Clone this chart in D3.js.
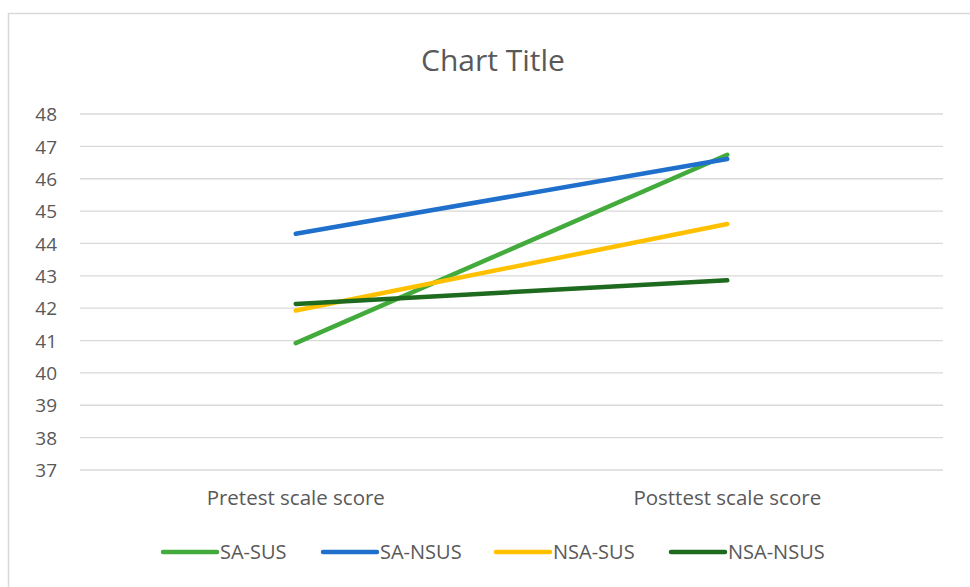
<!DOCTYPE html>
<html lang="en">
<head>
<script src="https://d3js.org/d3.v7.min.js"></script>
<style>
  body { margin: 0; background: #fff; }
  text { font-family: "Open Sans", sans-serif; fill: #595959; }
</style>
</head>
<body>
<div id="chart"></div>
<script>
// data
var categories = ["Pretest scale score", "Posttest scale score"];
var seriesNames = ["SA-SUS", "SA-NSUS", "NSA-SUS", "NSA-NSUS"];
var seriesColors = ["#42ab3c", "#1f6fcd", "#ffc000", "#1e6a1e"];
var saSus = [40.92, 46.74];
var saNsus = [44.30, 46.61];
var nsaSus = [41.93, 44.60];
var nsaNsus = [42.13, 42.86];
var yTicks = [37, 38, 39, 40, 41, 42, 43, 44, 45, 46, 47, 48];

var allSeries = [saSus, saNsus, nsaSus, nsaNsus];

var W = 970, H = 587;
var margin = {top: 114, right: 27, bottom: 117, left: 80};
var width = W - margin.left - margin.right,
    height = H - margin.top - margin.bottom;

var svg = d3.select("#chart").append("svg")
  .attr("width", W)
  .attr("height", H);

// chart area border
svg.append("rect")
  .attr("x", 8.5).attr("y", 13.5)
  .attr("width", W).attr("height", H)
  .attr("fill", "#fff")
  .attr("stroke", "#d9d9d9")
  .attr("stroke-width", 1.5);

svg.append("text")
  .attr("x", 493).attr("y", 71)
  .attr("text-anchor", "middle")
  .style("font-size", "30px")
  .text("Chart Title");

var g = svg.append("g")
  .attr("transform", "translate(" + margin.left + "," + margin.top + ")");

var x = d3.scaleBand().domain(categories).range([0, width]);
var y = d3.scaleLinear().domain([37, 48]).range([height, 0]);

// gridlines
g.append("g")
  .selectAll("line")
  .data(yTicks)
  .enter().append("line")
  .attr("x1", 0).attr("x2", width)
  .attr("y1", function(d) { return y(d); })
  .attr("y2", function(d) { return y(d); })
  .attr("stroke", "#d9d9d9")
  .attr("stroke-width", 1.3);

// y axis
var yAxis = g.append("g")
  .call(d3.axisLeft(y).tickValues(yTicks).tickSize(0).tickPadding(23));
yAxis.select(".domain").remove();
yAxis.selectAll("text").style("font-size", "19px").attr("dy", "0.35em");

// x axis
var xAxis = g.append("g")
  .attr("transform", "translate(0," + height + ")")
  .call(d3.axisBottom(x).tickSize(0).tickPadding(20));
xAxis.select(".domain").remove();
xAxis.selectAll("text").style("font-size", "20.5px");

// lines
var line = d3.line()
  .x(function(d, i) { return x(categories[i]) + x.bandwidth() / 2; })
  .y(function(d) { return y(d); });

g.selectAll(".series")
  .data(allSeries)
  .enter().append("path")
  .attr("class", "series")
  .attr("d", line)
  .attr("fill", "none")
  .attr("stroke", function(d, i) { return seriesColors[i]; })
  .attr("stroke-width", 4.5)
  .attr("stroke-linecap", "round");

// legend
var legendX = [163, 323, 496, 671];
var legend = svg.append("g").attr("transform", "translate(0,552)");
var item = legend.selectAll("g")
  .data(seriesNames)
  .enter().append("g")
  .attr("transform", function(d, i) { return "translate(" + legendX[i] + ",0)"; });
item.append("line")
  .attr("x1", 0).attr("x2", 54)
  .attr("y1", 0).attr("y2", 0)
  .attr("stroke", function(d, i) { return seriesColors[i]; })
  .attr("stroke-width", 4.5)
  .attr("stroke-linecap", "round");
item.append("text")
  .attr("x", 57).attr("y", 0)
  .attr("dy", "0.35em")
  .style("font-size", "20px")
  .text(function(d) { return d; });
</script>
</body>
</html>
